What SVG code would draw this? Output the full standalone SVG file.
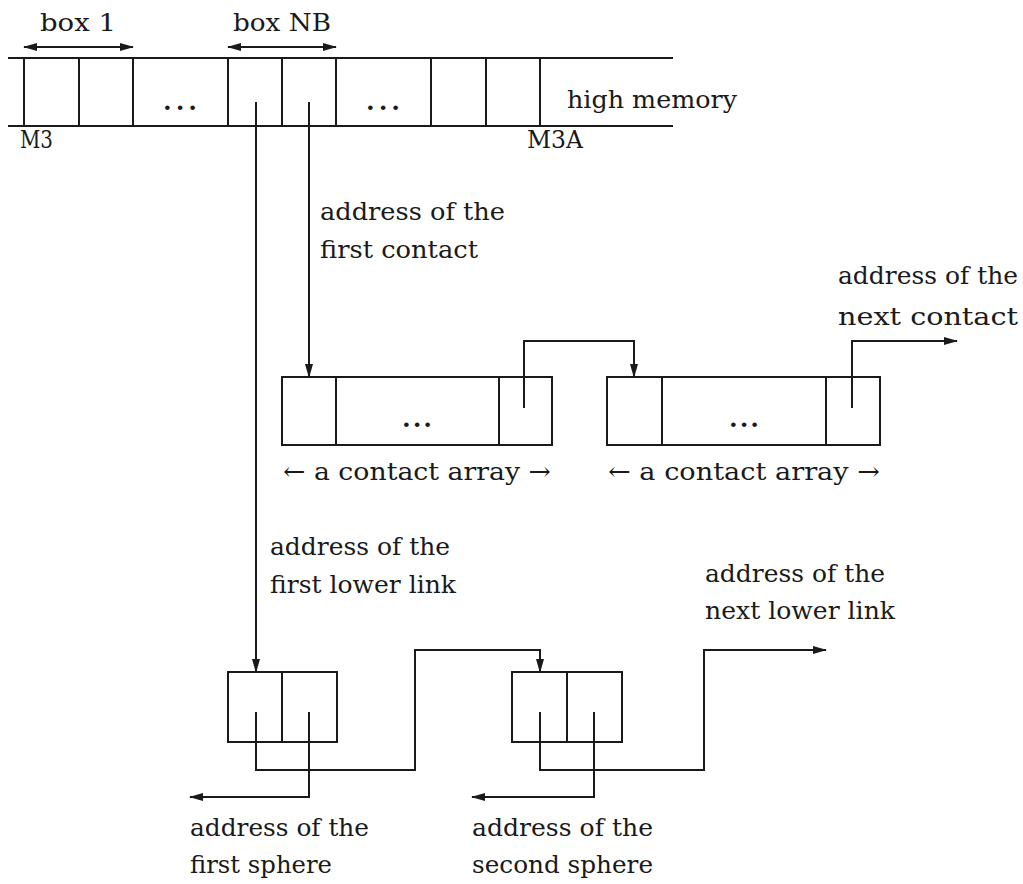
<svg xmlns="http://www.w3.org/2000/svg" width="1023" height="884" viewBox="0 0 1023 884">
<defs>
<marker id="ah" markerUnits="userSpaceOnUse" markerWidth="14" markerHeight="10" refX="13" refY="5" orient="auto">
<path d="M0,1 L14,5 L0,9 z" fill="#1a1a1a"/>
</marker>
<marker id="ah2" markerUnits="userSpaceOnUse" markerWidth="14" markerHeight="10" refX="1" refY="5" orient="auto">
<path d="M14,1 L0,5 L14,9 z" fill="#1a1a1a"/>
</marker>
</defs>
<style>
.ln{fill:none;stroke:#1a1a1a;stroke-width:2}
.bx{fill:none;stroke:#1a1a1a;stroke-width:2}
.t{font-family:'DejaVu Serif','Liberation Serif',serif;font-size:25px;fill:#1a1a1a}
.d{font-family:'DejaVu Serif',serif;font-size:25px;fill:#1a1a1a;font-weight:bold}
.c{stroke:#1a1a1a;stroke-width:2;fill:none}
</style>
<rect width="1023" height="884" fill="#ffffff"/>

<g id="memory">
<line class="ln" x1="8" y1="58" x2="673" y2="58"/>
<line class="ln" x1="8" y1="126" x2="673" y2="126"/>
<line class="ln" x1="24" y1="58" x2="24" y2="126"/>
<line class="ln" x1="79" y1="58" x2="79" y2="126"/>
<line class="ln" x1="133" y1="58" x2="133" y2="126"/>
<line class="ln" x1="228" y1="58" x2="228" y2="126"/>
<line class="ln" x1="282" y1="58" x2="282" y2="126"/>
<line class="ln" x1="336" y1="58" x2="336" y2="126"/>
<line class="ln" x1="431" y1="58" x2="431" y2="126"/>
<line class="ln" x1="486" y1="58" x2="486" y2="126"/>
<line class="ln" x1="540" y1="58" x2="540" y2="126"/>
<text class="d" x="180" y="110" text-anchor="middle" textLength="34" lengthAdjust="spacing">...</text>
<text class="d" x="383" y="110" text-anchor="middle" textLength="34" lengthAdjust="spacing">...</text>
<text class="t" x="567" y="108" textLength="170" lengthAdjust="spacingAndGlyphs">high memory</text>
<text class="t" x="20" y="148" textLength="33" lengthAdjust="spacingAndGlyphs">M3</text>
<text class="t" x="527" y="148" textLength="56" lengthAdjust="spacingAndGlyphs">M3A</text>
</g>

<g id="box1-label">
<line class="c" x1="24" y1="47" x2="133" y2="47" marker-start="url(#ah2)" marker-end="url(#ah)"/>
<text class="t" x="40" y="31" textLength="76" lengthAdjust="spacingAndGlyphs">box 1</text>
</g>
<g id="boxNB-label">
<line class="c" x1="228" y1="47" x2="336" y2="47" marker-start="url(#ah2)" marker-end="url(#ah)"/>
<text class="t" x="233" y="31" textLength="98" lengthAdjust="spacingAndGlyphs">box NB</text>
</g>

<g id="contact-array-1">
<rect class="bx" x="282" y="377" width="270" height="68"/>
<line class="ln" x1="336" y1="377" x2="336" y2="445"/>
<line class="ln" x1="499" y1="377" x2="499" y2="445"/>
<text class="d" x="417" y="427" text-anchor="middle" textLength="30" lengthAdjust="spacing">...</text>
<text class="t" x="283" y="480" textLength="268" lengthAdjust="spacingAndGlyphs">← a contact array →</text>
</g>

<g id="contact-array-2">
<rect class="bx" x="607" y="377" width="273" height="68"/>
<line class="ln" x1="662" y1="377" x2="662" y2="445"/>
<line class="ln" x1="826" y1="377" x2="826" y2="445"/>
<text class="d" x="744" y="427" text-anchor="middle" textLength="30" lengthAdjust="spacing">...</text>
<text class="t" x="608" y="480" textLength="272" lengthAdjust="spacingAndGlyphs">← a contact array →</text>
</g>

<g id="lower-link-1">
<rect class="bx" x="228" y="672" width="109" height="70"/>
<line class="ln" x1="282" y1="672" x2="282" y2="742"/>
</g>

<g id="lower-link-2">
<rect class="bx" x="512" y="672" width="110" height="70"/>
<line class="ln" x1="567" y1="672" x2="567" y2="742"/>
</g>

<g id="labels">
<text class="t" x="320" y="220" textLength="185" lengthAdjust="spacingAndGlyphs">address of the</text>
<text class="t" x="320" y="258" textLength="158" lengthAdjust="spacingAndGlyphs">first contact</text>
<text class="t" x="838" y="284" textLength="180" lengthAdjust="spacingAndGlyphs">address of the</text>
<text class="t" x="838" y="325" textLength="180" lengthAdjust="spacingAndGlyphs">next contact</text>
<text class="t" x="270" y="555" textLength="180" lengthAdjust="spacingAndGlyphs">address of the</text>
<text class="t" x="270" y="593" textLength="186" lengthAdjust="spacingAndGlyphs">first lower link</text>
<text class="t" x="705" y="582" textLength="180" lengthAdjust="spacingAndGlyphs">address of the</text>
<text class="t" x="705" y="619" textLength="190" lengthAdjust="spacingAndGlyphs">next lower link</text>
<text class="t" x="190" y="836" textLength="179" lengthAdjust="spacingAndGlyphs">address of the</text>
<text class="t" x="190" y="873" textLength="142" lengthAdjust="spacingAndGlyphs">first sphere</text>
<text class="t" x="472" y="836" textLength="181" lengthAdjust="spacingAndGlyphs">address of the</text>
<text class="t" x="472" y="873" textLength="181" lengthAdjust="spacingAndGlyphs">second sphere</text>
</g>

<g id="connectors">
<polyline class="c" points="309,102 309,377" marker-end="url(#ah)"/>
<polyline class="c" points="256,102 256,672" marker-end="url(#ah)"/>
<polyline class="c" points="524,408 524,341 634,341 634,377" marker-end="url(#ah)"/>
<polyline class="c" points="852,408 852,341 957,341" marker-end="url(#ah)"/>
<polyline class="c" points="256,712 256,770 415,770 415,650 540,650 540,672" marker-end="url(#ah)"/>
<polyline class="c" points="309,712 309,797 190,797" marker-end="url(#ah)"/>
<polyline class="c" points="540,712 540,770 704,770 704,650 826,650" marker-end="url(#ah)"/>
<polyline class="c" points="594,712 594,797 472,797" marker-end="url(#ah)"/>
</g>
</svg>
